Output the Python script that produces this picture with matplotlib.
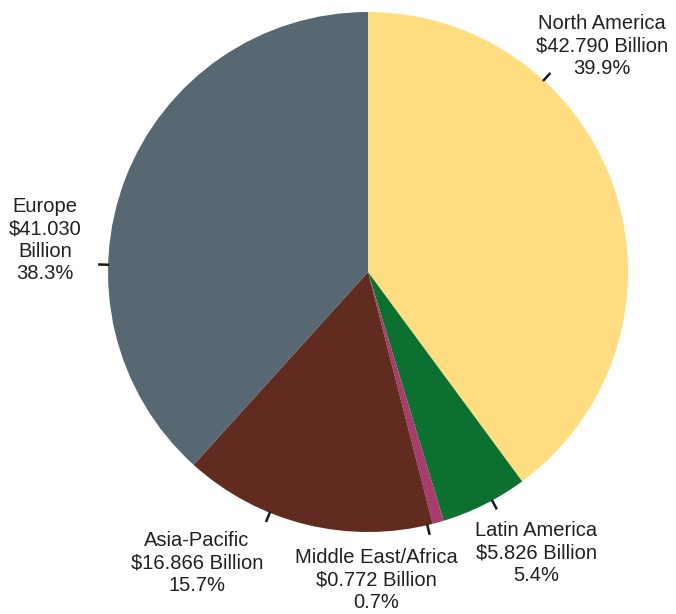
import numpy as np
import matplotlib
matplotlib.use("Agg")
import matplotlib.pyplot as plt

plt.rcParams['font.family'] = ['Liberation Sans', 'DejaVu Sans']

# Regional market size (USD billion) and share
regions = ["North America", "Latin America", "Middle East/Africa", "Asia-Pacific", "Europe"]
revenue = [42.790, 5.826, 0.772, 16.866, 41.030]
share = [39.9, 5.4, 0.7, 15.7, 38.3]
colors = ["#FFDD80", "#0C7130", "#A83C6C", "#612B20", "#576873"]

# Label layout (pixel space, origin at top-left): text centre and leader bearing (deg clockwise from top)
label_xy = [(602, 46), (536, 553), (376, 580), (197, 563), (45, 240)]
leader_bearing = [42.5, 151.5, 166.8, 202.2, 271.6]
label_text = [
    "North America\n$42.790 Billion\n39.9%",
    "Latin America\n$5.826 Billion\n5.4%",
    "Middle East/Africa\n$0.772 Billion\n0.7%",
    "Asia-Pacific\n$16.866 Billion\n15.7%",
    "Europe\n$41.030\nBillion\n38.3%",
]

W, H = 676, 614
fig = plt.figure(figsize=(W / 100, H / 100), dpi=100)
ax = fig.add_axes([0, 0, 1, 1])

cx, cy, r = 368, H - 272, 260
ax.pie(share, colors=colors, startangle=90, counterclock=False,
       center=(cx, cy), radius=r, wedgeprops=dict(linewidth=0))

ax.set_xlim(0, W)
ax.set_ylim(0, H)
ax.set_aspect('auto')
ax.axis('off')

for (lx, ly), b, txt in zip(label_xy, leader_bearing, label_text):
    th = np.deg2rad(b)
    r0, r1 = r - 1, r + 10
    ax.plot([cx + r0 * np.sin(th), cx + r1 * np.sin(th)],
            [cy + r0 * np.cos(th), cy + r1 * np.cos(th)],
            color="#1a1a1a", lw=1.8, solid_capstyle='butt')
    ax.text(lx, H - ly, txt, ha='center', va='center', fontsize=14.5,
            color="#231F20", linespacing=1.22)

fig.savefig("out.png", dpi=100)
